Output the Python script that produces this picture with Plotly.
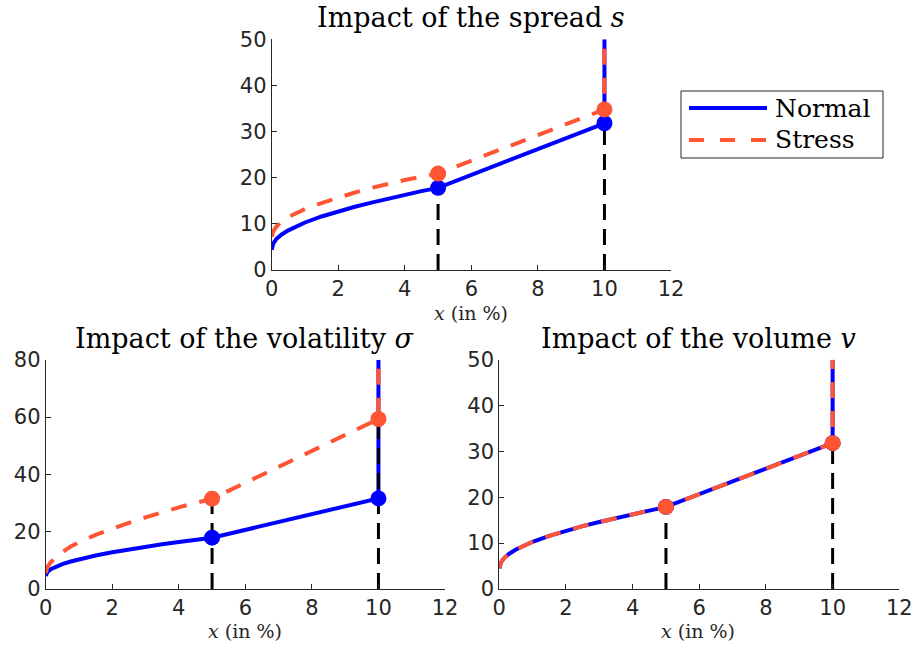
import plotly.graph_objects as go

W, H = 915, 649
BLUE = "#0000FF"
RED = "#FF5533"
AX = "#262626"

# ---------------- data ----------------
x_ticks = [0, 2, 4, 6, 8, 10, 12]
knots_x = [5, 10]

# Panel 1: impact of the spread s
spread_normal_x = [0, 0.05, 0.15, 0.3, 0.5, 0.75, 1, 1.5, 2, 2.5, 3, 3.5, 4, 4.5, 5, 10, 10]
spread_normal_y = [4.4, 5.8, 6.8, 7.7, 8.6, 9.5, 10.3, 11.6, 12.7, 13.7, 14.6, 15.5, 16.3, 17.1, 17.8, 31.8, 50]
spread_stress_x = [0, 0.05, 0.15, 0.3, 0.5, 0.75, 1, 1.5, 2, 2.5, 3, 3.5, 4, 4.5, 5, 10, 10]
spread_stress_y = [7.2, 8.4, 9.5, 10.5, 11.5, 12.4, 13.2, 14.5, 15.7, 16.8, 17.8, 18.7, 19.5, 20.2, 20.9, 34.8, 50]
spread_normal_knots = [17.8, 31.8]
spread_stress_knots = [20.9, 34.8]

# Panel 2: impact of the volatility sigma
vol_normal_x = [0, 0.05, 0.15, 0.3, 0.5, 0.75, 1, 1.5, 2, 2.5, 3, 3.5, 4, 4.5, 5, 10, 10]
vol_normal_y = [4.6, 5.9, 6.9, 7.8, 8.7, 9.6, 10.4, 11.7, 12.8, 13.8, 14.7, 15.6, 16.4, 17.2, 17.9, 31.6, 80]
vol_stress_x = [0, 0.05, 0.15, 0.3, 0.5, 0.75, 1, 1.5, 2, 2.5, 3, 3.5, 4, 4.5, 5, 10, 10]
vol_stress_y = [5.5, 7.6, 9.3, 11.0, 12.9, 14.8, 16.3, 18.9, 21.1, 23.1, 25.0, 26.8, 28.5, 30.0, 31.5, 59.3, 80]
vol_normal_knots = [17.9, 31.6]
vol_stress_knots = [31.5, 59.3]

# Panel 3: impact of the volume v (normal and stress coincide)
volu_normal_x = [0, 0.05, 0.15, 0.3, 0.5, 0.75, 1, 1.5, 2, 2.5, 3, 3.5, 4, 4.5, 5, 10, 10]
volu_normal_y = [4.5, 5.8, 6.8, 7.7, 8.6, 9.5, 10.3, 11.6, 12.7, 13.7, 14.6, 15.5, 16.3, 17.1, 17.9, 31.8, 50]
volu_stress_x = volu_normal_x
volu_stress_y = volu_normal_y
volu_normal_knots = [17.9, 31.8]
volu_stress_knots = [17.9, 31.8]

# ---------------- layout helpers ----------------
def px_x(p):
    return p / W

def px_y(p):
    return 1 - p / H

panels = [
    dict(xd=[px_x(271.7), px_x(671)], yd=[px_y(270), px_y(39.3)], yr=50, yt=[0, 10, 20, 30, 40, 50],
         title="Impact of the spread <i>s</i>", tc=(471, 18), lc=(471, 313),
         nx=spread_normal_x, ny=spread_normal_y, sx=spread_stress_x, sy=spread_stress_y,
         nk=spread_normal_knots, sk=spread_stress_knots),
    dict(xd=[px_x(45.7), px_x(445)], yd=[px_y(589), px_y(359.7)], yr=80, yt=[0, 20, 40, 60, 80],
         title="Impact of the volatility <i>σ</i>", tc=(245, 338), lc=(245, 631),
         nx=vol_normal_x, ny=vol_normal_y, sx=vol_stress_x, sy=vol_stress_y,
         nk=vol_normal_knots, sk=vol_stress_knots),
    dict(xd=[px_x(499.3), px_x(899.3)], yd=[px_y(589), px_y(359.7)], yr=50, yt=[0, 10, 20, 30, 40, 50],
         title="Impact of the volume <i>v</i>", tc=(698, 338), lc=(698, 631),
         nx=volu_normal_x, ny=volu_normal_y, sx=volu_stress_x, sy=volu_stress_y,
         nk=volu_normal_knots, sk=volu_stress_knots),
]

fig = go.Figure()
annotations = []
layout = {}
for i, p in enumerate(panels):
    suf = "" if i == 0 else str(i + 1)
    xa, ya = "x" + suf, "y" + suf
    fig.add_trace(go.Scatter(x=p["nx"], y=p["ny"], mode="lines", xaxis=xa, yaxis=ya,
                             line=dict(color=BLUE, width=4), showlegend=False, hoverinfo="skip"))
    fig.add_trace(go.Scatter(x=p["sx"], y=p["sy"], mode="lines", xaxis=xa, yaxis=ya,
                             line=dict(color=RED, width=4, dash="16px,13px"), showlegend=False,
                             hoverinfo="skip"))
    for kx, top in zip(knots_x, [max(a, b) for a, b in zip(p["nk"], p["sk"])]):
        fig.add_trace(go.Scatter(x=[kx, kx], y=[0, top], mode="lines", xaxis=xa, yaxis=ya,
                                 line=dict(color="black", width=3, dash="16px,9px"),
                                 showlegend=False, hoverinfo="skip"))
    fig.add_trace(go.Scatter(x=knots_x, y=p["nk"], mode="markers", xaxis=xa, yaxis=ya,
                             marker=dict(color=BLUE, size=16), showlegend=False, hoverinfo="skip"))
    fig.add_trace(go.Scatter(x=knots_x, y=p["sk"], mode="markers", xaxis=xa, yaxis=ya,
                             marker=dict(color=RED, size=16), showlegend=False, hoverinfo="skip"))

    common = dict(showline=True, linecolor=AX, linewidth=1, ticks="inside", ticklen=5,
                  tickcolor=AX, tickwidth=1, showgrid=False, zeroline=False, automargin=False,
                  tickfont=dict(family="DejaVu Sans", size=21, color=AX), mirror=False)
    layout["xaxis" + suf] = dict(domain=p["xd"], range=[0, 12], tickvals=x_ticks,
                                 anchor=ya, **common)
    layout["yaxis" + suf] = dict(domain=p["yd"], range=[0, p["yr"]], tickvals=p["yt"],
                                 anchor=xa, **common)
    annotations.append(dict(text=p["title"], x=px_x(p["tc"][0]), y=px_y(p["tc"][1]),
                            xref="paper", yref="paper", showarrow=False,
                            xanchor="center", yanchor="middle",
                            font=dict(family="DejaVu Serif", size=27, color="black")))
    annotations.append(dict(text="<i>x</i> (in %)", x=px_x(p["lc"][0]), y=px_y(p["lc"][1]),
                            xref="paper", yref="paper", showarrow=False,
                            xanchor="center", yanchor="middle",
                            font=dict(family="DejaVu Serif", size=19, color=AX)))

shapes = [
    dict(type="rect", xref="paper", yref="paper", x0=px_x(681), x1=px_x(883),
         y0=px_y(158), y1=px_y(91), line=dict(color=AX, width=1), fillcolor="white"),
    dict(type="line", xref="paper", yref="paper", x0=px_x(689), x1=px_x(767),
         y0=px_y(108), y1=px_y(108), line=dict(color=BLUE, width=4)),
    dict(type="line", xref="paper", yref="paper", x0=px_x(689), x1=px_x(767),
         y0=px_y(140), y1=px_y(140), line=dict(color=RED, width=4, dash="15px,16px")),
]
for name, yy in [("Normal", 108), ("Stress", 140)]:
    annotations.append(dict(text=name, x=px_x(773), y=px_y(yy), xref="paper", yref="paper",
                            showarrow=False, xanchor="left", yanchor="middle",
                            font=dict(family="DejaVu Serif", size=25, color="black")))

fig.update_layout(width=W, height=H, margin=dict(l=0, r=0, t=0, b=0, pad=0),
                  paper_bgcolor="white", plot_bgcolor="white",
                  annotations=annotations, shapes=shapes, showlegend=False, **layout)
fig.write_html("out.html", config={"displayModeBar": False},
               post_script="document.body.style.margin='0px';document.body.style.overflow='hidden';")
